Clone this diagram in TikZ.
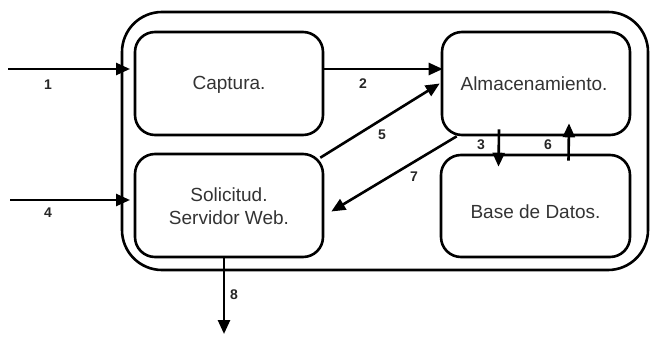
\documentclass[tikz,border=0pt]{standalone}
\usepackage{fontspec}
\setmainfont{Liberation Sans}
\usetikzlibrary{arrows.meta}
\definecolor{txt}{HTML}{333333}
\begin{document}
\begin{tikzpicture}[x=1pt,y=-1pt,
  box/.style={draw,line width=2.6pt,rounded corners=20pt,inner sep=0pt},
  boxtext/.style={font=\fontsize{19}{23}\selectfont,text=txt,align=center},
  num/.style={font=\bfseries\fontsize{14}{16}\selectfont,text=black!85},
  flow/.style={line width=2.6pt,-{Triangle[length=14pt,width=12pt]}}]
\useasboundingbox (0,0) rectangle (650,337);
% outer system boundary
\draw[line width=2.6pt,rounded corners=40pt] (122,12) rectangle (648,270);
% process boxes
\node[box,minimum width=188pt,minimum height=103pt] (cap) at (229,83.5) {};
\node[box,minimum width=188pt,minimum height=103pt] (alm) at (536,83.5) {};
\node[box,minimum width=188pt,minimum height=103pt] (sol) at (229,205.5) {};
\node[box,minimum width=189pt,minimum height=102pt] (db)  at (535.5,206) {};
% box captions
\node[boxtext] (tcap) at (229,85) {Captura.};
\node[boxtext] (talm) at (534,84) {Almacenamiento.};
\node[boxtext] (tsol) at (229,206.5) {Solicitud.\\Servidor Web.};
\node[boxtext] (tdb)  at (535.5,212) {Base de Datos.};
% external inputs and output
\coordinate (in1) at (8,69);
\coordinate (end1) at (130,69);
\coordinate (in4) at (10,200);
\coordinate (end4) at (130,200);
\coordinate (out8) at (224,334);
\draw[flow] (in1) -- (end1);
\draw[flow] (in4) -- (end4);
\draw[flow] (sol.south -| out8) -- (out8);
% internal flows
\draw[flow] (cap.east |- in1) -- ([xshift=2pt]alm.west |- in1);
\draw[flow] ([shift={(-4,5)}]sol.north east) -- ([shift={(-1,0)}]alm.west);
\draw[flow] ([shift={(16,0)}]alm.south west) -- ([shift={(7,6)}]sol.east);
\draw[flow] ([shift={(-37,-7)}]alm.south) -- ([shift={(-37,13)}]db.north);
\draw[flow] ([shift={(33,7)}]db.north) -- ([shift={(33,-13)}]alm.south);
% flow numbers
\node[num] at (48,85) {1};
\node[num] at (363,84) {2};
\node[num] at (481,145) {3};
\node[num] at (48,213) {4};
\node[num] at (382,135) {5};
\node[num] at (548,145) {6};
\node[num] at (414,177) {7};
\node[num] at (234,295) {8};
\end{tikzpicture}
\end{document}
